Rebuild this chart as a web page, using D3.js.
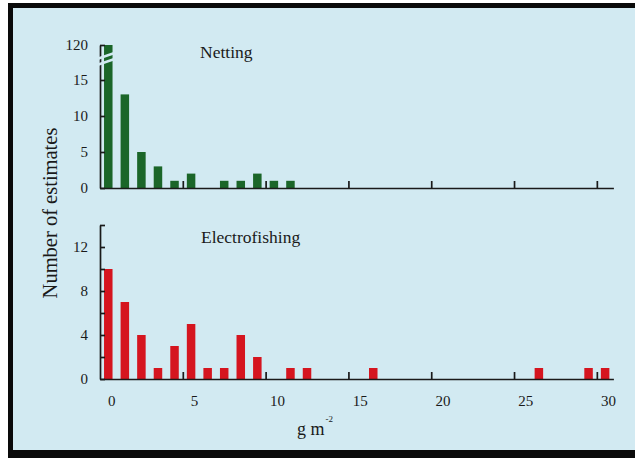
<!DOCTYPE html>
<html>
<head>
<meta charset="utf-8">
<script src="https://cdn.jsdelivr.net/npm/d3@7"></script>
<style>
  body { margin: 0; background: #fff; }
  text { font-family: "Liberation Serif", "DejaVu Serif", serif; fill: #1a1a1a; }
</style>
</head>
<body>
<div id="chart"></div>
<script>
// bins are 1 g m-2 wide, bin k covers [k, k+1)
var nettingBins = [0, 1, 2, 3, 4, 5, 7, 8, 9, 10, 11];
var nettingCounts = [120, 13, 5, 3, 1, 2, 1, 1, 2, 1, 1];

var electroBins = [0, 1, 2, 3, 4, 5, 6, 7, 8, 9, 11, 12, 16, 26, 29, 30];
var electroCounts = [10, 7, 4, 1, 3, 5, 1, 1, 4, 2, 1, 1, 1, 1, 1, 1];

var xTicks = [0, 5, 10, 15, 20, 25, 30];
var nettingYTicks = [0, 5, 10, 15, 120];
var electroYTicks = [0, 2, 4, 6, 8, 10, 12, 14];
var electroYLabels = [0, 4, 8, 12];

var width = 635, height = 458;
var bg = "#d2eaf2", ink = "#1a1a1a";

var svg = d3.select("#chart")
    .append("svg")
        .attr("width", width)
        .attr("height", height);

// frame
svg.append("rect").attr("x", 8).attr("y", 3).attr("width", 640).attr("height", 460).attr("fill", "#0a0a0a");
svg.append("rect").attr("x", 13).attr("y", 8).attr("width", 640).attr("height", 442).attr("fill", bg);

var x = d3.scaleLinear().domain([0, 31]).range([100, 613.4]);
var yTop = d3.scaleLinear().domain([0, 15, 120]).range([188, 80, 45]);
var yBot = d3.scaleLinear().domain([0, 14]).range([379, 225]);
var barW = 8.5;

function styleAxis(g){
    g.selectAll("path").attr("stroke", ink).attr("stroke-width", 1.7);
    g.selectAll("line").attr("stroke", ink).attr("stroke-width", 1.7);
    g.selectAll("text").style("font-size", "15px").attr("fill", ink)
        .style("font-family", "'Liberation Serif', serif");
}

function drawPanel(bins, counts, y, yTicks, yLabels, color, base, showX){
    svg.selectAll(null)
        .data(bins)
        .enter()
        .append("rect")
            .attr("x", function(d){ return x(d + 0.5) - barW / 2; })
            .attr("width", barW)
            .attr("y", function(d, i){ return y(counts[i]); })
            .attr("height", function(d, i){ return base - y(counts[i]); })
            .attr("fill", color);

    var gy = svg.append("g")
        .attr("transform", "translate(" + x(0) + ",0)")
        .call(d3.axisLeft(y)
            .tickValues(yTicks)
            .tickSizeInner(-5)
            .tickSizeOuter(0)
            .tickPadding(12)
            .tickFormat(function(d){ return yLabels.indexOf(d) >= 0 ? d : ""; }));
    styleAxis(gy);

    var gx = svg.append("g")
        .attr("transform", "translate(0," + base + ")")
        .call(d3.axisBottom(x)
            .tickValues(xTicks)
            .tickSizeInner(-7)
            .tickSizeOuter(0)
            .tickPadding(16)
            .tickFormat(showX ? d3.format("d") : function(){ return ""; }));
    styleAxis(gx);
    // labels sit a little right of the ticks, as in the original
    gx.selectAll("text").attr("dx", x(0.5) - x(0) + 3);
    gx.selectAll(".tick").filter(function(d){ return d === 0; }).select("line").remove();
}

drawPanel(nettingBins, nettingCounts, yTop, nettingYTicks, nettingYTicks, "#1b6629", 188, false);
drawPanel(electroBins, electroCounts, yBot, electroYTicks, electroYLabels, "#d5151f", 379, true);

// axis break on the first netting bar
[0, 6].forEach(function(off){
    svg.append("line")
        .attr("x1", x(0) - 3).attr("y1", 59 + off)
        .attr("x2", x(1) - 2).attr("y2", 53 + off)
        .attr("stroke", bg)
        .attr("stroke-width", 2.4);
});

svg.append("text")
    .attr("x", 200).attr("y", 58)
    .style("font-size", "17.5px")
    .text("Netting");

svg.append("text")
    .attr("x", 201).attr("y", 243)
    .style("font-size", "17.5px")
    .text("Electrofishing");

svg.append("text")
    .attr("text-anchor", "middle")
    .attr("transform", "translate(57,213) rotate(-90)")
    .style("font-size", "20.5px")
    .text("Number of estimates");

var xl = svg.append("text")
    .attr("x", 297).attr("y", 435)
    .style("font-size", "18px");
xl.append("tspan").text("g m");
xl.append("tspan")
    .attr("dy", -13)
    .attr("dx", 1)
    .style("font-size", "9px")
    .text("-2");
</script>
</body>
</html>
